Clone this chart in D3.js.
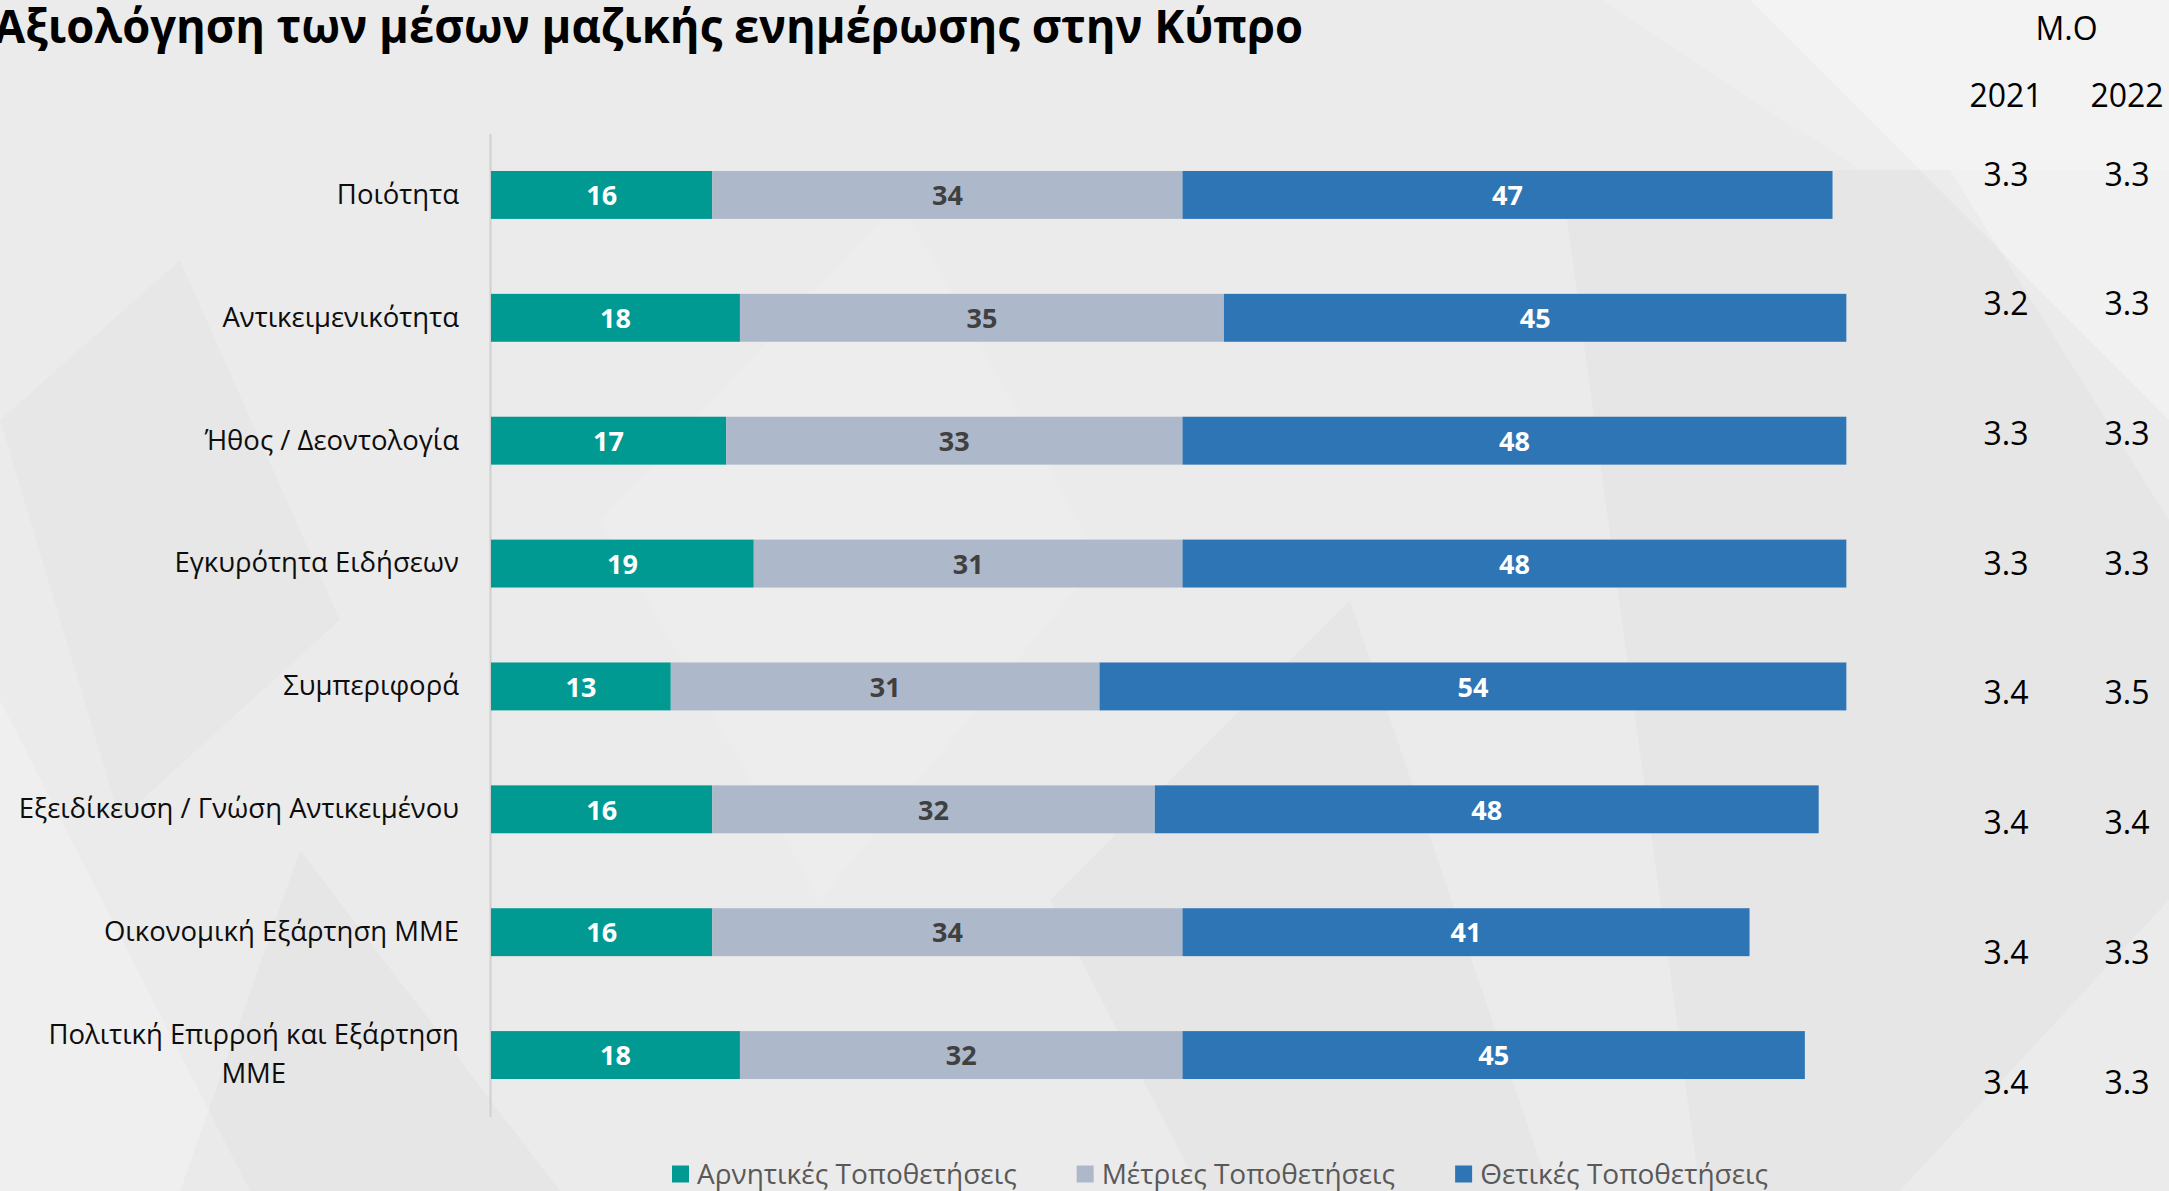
<!DOCTYPE html>
<html>
<head>
<meta charset="utf-8">
<script src="https://cdn.jsdelivr.net/npm/d3@7"></script>
<style>
  html, body { margin: 0; padding: 0; background: #ebebeb; overflow: hidden; }
  svg { display: block; font-family: "Open Sans", "Noto Sans", sans-serif; }
</style>
</head>
<body>
<svg id="chart" width="2169" height="1191"></svg>
<script>
// ---------- data ----------
const title = "Αξιολόγηση των μέσων μαζικής ενημέρωσης στην Κύπρο";
const categories = [
  "Ποιότητα",
  "Αντικειμενικότητα",
  "Ήθος / Δεοντολογία",
  "Εγκυρότητα Ειδήσεων",
  "Συμπεριφορά",
  "Εξειδίκευση / Γνώση Αντικειμένου",
  "Οικονομική Εξάρτηση ΜΜΕ",
  "Πολιτική Επιρροή και Εξάρτηση ΜΜΕ"
];
const negativeVals = [16, 18, 17, 19, 13, 16, 16, 18];
const moderateVals = [34, 35, 33, 31, 31, 32, 34, 32];
const positiveVals = [47, 45, 48, 48, 54, 48, 41, 45];
const seriesNames = ["Αρνητικές Τοποθετήσεις", "Μέτριες Τοποθετήσεις", "Θετικές Τοποθετήσεις"];
const moHeader = "Μ.Ο";
const years = ["2021", "2022"];
const mo2021 = [3.3, 3.2, 3.3, 3.3, 3.4, 3.4, 3.4, 3.4];
const mo2022 = [3.3, 3.3, 3.3, 3.3, 3.5, 3.4, 3.3, 3.3];

// ---------- styles ----------
const colors = ["#009a93", "#adb9ca", "#2e75b6"];
const labelColors = ["#ffffff", "#404040", "#ffffff"];

const svg = d3.select("#chart");
const W = 2169, H = 1191;

// ---------- background decoration ----------
const bg = svg.append("g");
bg.append("rect").attr("width", W).attr("height", H).attr("fill", "#ebebeb");
const shapes = [
  {pts: [[1750,0],[2169,0],[2169,420]], fill: "#ffffff", op: 0.3},
  {pts: [[1600,0],[1860,170],[2169,170],[2169,0]], fill: "#ffffff", op: 0.15},
  {pts: [[1560,170],[1950,170],[2169,520],[2169,900],[1900,1191],[1700,1191]], fill: "#000000", op: 0.02},
  {pts: [[0,700],[250,1191],[0,1191]], fill: "#ffffff", op: 0.2},
  {pts: [[300,850],[560,1191],[180,1191]], fill: "#000000", op: 0.02},
  {pts: [[600,520],[900,200],[1100,560],[820,900]], fill: "#ffffff", op: 0.1},
  {pts: [[1050,900],[1350,600],[1550,1191],[1200,1191]], fill: "#000000", op: 0.02},
  {pts: [[0,420],[180,260],[340,620],[120,820]], fill: "#000000", op: 0.015}
];
bg.selectAll("polygon").data(shapes).join("polygon")
  .attr("points", d => d.pts.map(p => p.join(",")).join(" "))
  .attr("fill", d => d.fill).attr("opacity", d => d.op);

// ---------- scales ----------
const x = d3.scaleLinear().domain([0, 100]).range([491, 1874]);
const y = d3.scaleBand().domain(categories).range([133.5, 1116.5])
  .paddingInner(0.61).paddingOuter(0.305);

// ---------- title ----------
svg.append("text")
  .attr("x", -6).attr("y", 43)
  .attr("font-size", 47).attr("font-weight", 700).attr("fill", "#000")
  .attr("textLength", 1309).attr("lengthAdjust", "spacingAndGlyphs")
  .text(title);

// ---------- axis ----------
const labelSize = 27.5;
const axisG = svg.append("g").attr("transform", `translate(${x(0) - 1},0)`)
  .call(d3.axisLeft(y).tickSize(0).tickPadding(31));
axisG.select(".domain").attr("stroke", "#d0d0d0").attr("stroke-width", 2);
axisG.selectAll(".tick text")
  .attr("font-family", "'Open Sans', sans-serif")
  .attr("font-size", labelSize).attr("fill", "#0d0d0d");

// wrap the last long label in two centered lines
axisG.selectAll(".tick text").each(function(d) {
  if (d === categories[categories.length - 1]) {
    const t = d3.select(this);
    t.text(null);
    const lines = ["Πολιτική Επιρροή και Εξάρτηση", "ΜΜΕ"];
    const tmp = t.append("tspan").text(lines[0]);
    const wLong = tmp.node().getComputedTextLength();
    tmp.remove();
    const cx = -(31 + wLong / 2);
    t.attr("text-anchor", "middle").attr("x", cx).attr("dy", null);
    lines.forEach((ln, i) => {
      t.append("tspan").attr("x", cx).attr("y", 0)
        .attr("dy", (i === 0 ? -0.76 : 0.66) + 0.35 + "em").text(ln);
    });
  }
});

// ---------- bars ----------
const rows = categories.map((c, i) => ({cat: c, s0: negativeVals[i], s1: moderateVals[i], s2: positiveVals[i]}));
const stack = d3.stack().keys(["s0", "s1", "s2"]);
const stacked = stack(rows);

const barsG = svg.append("g");
const layer = barsG.selectAll("g.layer").data(stacked).join("g").attr("class", "layer")
  .attr("fill", (d, i) => colors[i]);
layer.selectAll("rect").data(d => d).join("rect")
  .attr("x", d => x(d[0]))
  .attr("y", d => y(d.data.cat))
  .attr("width", d => x(d[1]) - x(d[0]))
  .attr("height", y.bandwidth());

const labG = svg.append("g");
stacked.forEach((s, si) => {
  labG.selectAll(null).data(s).join("text")
    .attr("x", d => (x(d[0]) + x(d[1])) / 2)
    .attr("y", d => y(d.data.cat) + y.bandwidth() / 2)
    .attr("dy", "0.38em")
    .attr("text-anchor", "middle")
    .attr("font-size", 27).attr("font-weight", 700)
    .attr("fill", labelColors[si])
    .text(d => d[1] - d[0]);
});

// ---------- M.O table ----------
const colX = d3.scalePoint().domain(years).range([2006, 2127]);
const rowY = d3.scaleLinear().domain([0, categories.length - 1]).range([174, 1082]);
const tbl = svg.append("g").attr("font-size", 32).attr("fill", "#000").attr("text-anchor", "middle");
tbl.append("text").attr("x", (colX(years[0]) + colX(years[1])) / 2).attr("y", 28).attr("dy", "0.36em").text(moHeader);
tbl.selectAll("text.yr").data(years).join("text").attr("class", "yr")
  .attr("x", d => colX(d)).attr("y", 95).attr("dy", "0.36em").text(d => d);
[mo2021, mo2022].forEach((arr, j) => {
  tbl.selectAll(null).data(arr).join("text")
    .attr("x", colX(years[j]))
    .attr("y", (d, i) => rowY(i)).attr("dy", "0.36em")
    .text(d => d3.format(".1f")(d));
});

// ---------- legend ----------
const leg = svg.append("g").attr("transform", "translate(672,1174)");
let cursor = 0;
seriesNames.forEach((name, i) => {
  const g = leg.append("g").attr("transform", `translate(${cursor},0)`);
  g.append("rect").attr("x", 0).attr("y", -8.5).attr("width", 17).attr("height", 17).attr("fill", colors[i]);
  const t = g.append("text").attr("x", 25).attr("y", 0).attr("dy", "0.36em")
    .attr("font-size", 28).attr("fill", "#595959").text(name);
  cursor += 25 + t.node().getComputedTextLength() + 60;
});
</script>
</body>
</html>
